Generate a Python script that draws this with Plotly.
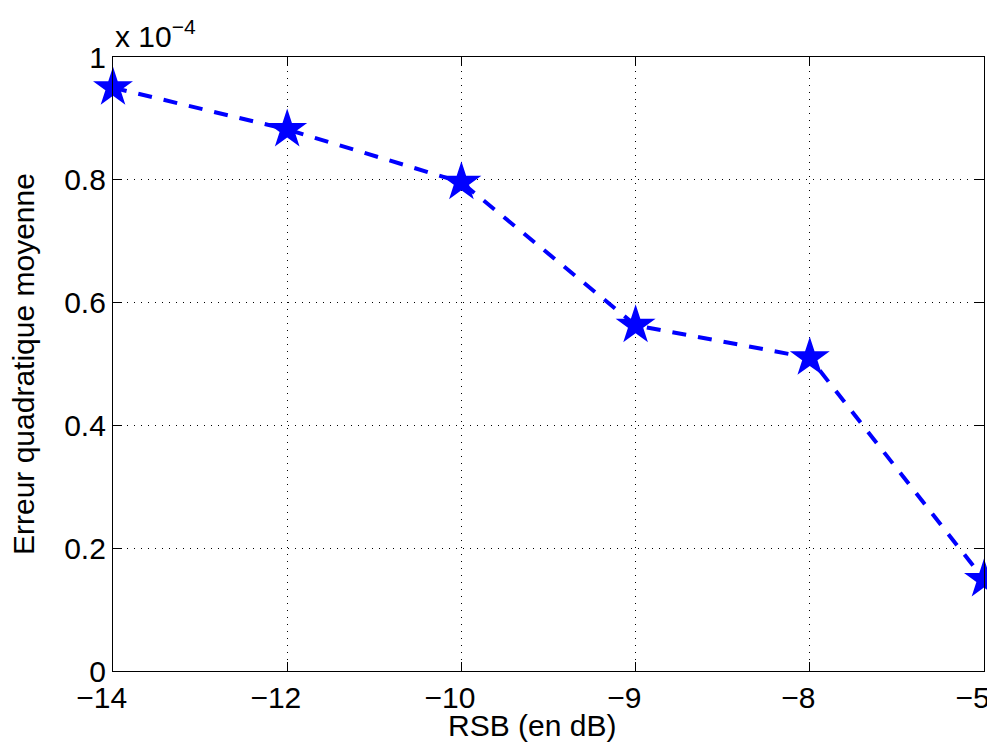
import plotly.graph_objects as go

rsb_labels = ["−14", "−12", "−10", "−9", "−8", "−5"]
mse_values = [0.95, 0.882, 0.796, 0.563, 0.510, 0.149]  # x 1e-4
y_ticks = [0, 0.2, 0.4, 0.6, 0.8, 1]
y_ticktext = ["0", "0.2", "0.4", "0.6", "0.8", "1"]

x_idx = list(range(len(rsb_labels)))

FONT_FAMILY = "Liberation Sans, Arial, Helvetica, sans-serif"
font = dict(family=FONT_FAMILY, size=30, color="black")

fig = go.Figure()
fig.add_trace(go.Scatter(
    x=x_idx, y=mse_values, mode="lines+markers",
    line=dict(color="#0000ff", width=4, dash="14px,12px"),
    marker=dict(symbol="star", size=30, color="#0000ff", line=dict(width=0)),
    cliponaxis=False, showlegend=False,
))

axis_common = dict(
    showline=True, linecolor="black", linewidth=1.3, mirror="ticks",
    ticks="inside", ticklen=9, tickcolor="black", tickwidth=1,
    showgrid=True, gridcolor="black", gridwidth=1, griddash="1px,6px",
    zeroline=False, automargin=False, tickfont=font,
)

# MATLAB draws the x labels slightly left of their ticks: pad each label
# on the right with an invisible run so the visible glyphs shift left.
pad = "<span style='color:rgba(0,0,0,0)'>0\u2009</span>"
x_ticktext = [t + pad for t in rsb_labels]

fig.update_layout(
    width=1020, height=755,
    margin=dict(l=105, r=44, t=49, b=92),
    paper_bgcolor="white", plot_bgcolor="white",
    font=font,
    xaxis=dict(range=[0, len(rsb_labels) - 1], tickvals=x_idx, ticktext=x_ticktext,
               **axis_common),
    yaxis=dict(range=[0, 1], tickvals=y_ticks, ticktext=y_ticktext, **axis_common),
    annotations=[
        dict(text="x 10<sup>−4</sup>",
             xref="paper", yref="paper",
             x=0, y=1, xanchor="left", yanchor="bottom", yshift=2,
             showarrow=False, font=font),
        dict(text="RSB (en dB)", xref="paper", yref="paper",
             x=0.5, y=0, xanchor="center", yanchor="middle",
             xshift=-17, yshift=-54, showarrow=False, font=font),
        dict(text="Erreur quadratique moyenne", xref="paper", yref="paper",
             x=0, y=0.5, xanchor="center", yanchor="middle", textangle=-90,
             xshift=-90, showarrow=False, font=font),
    ],
)

fig.write_html("out.html")
